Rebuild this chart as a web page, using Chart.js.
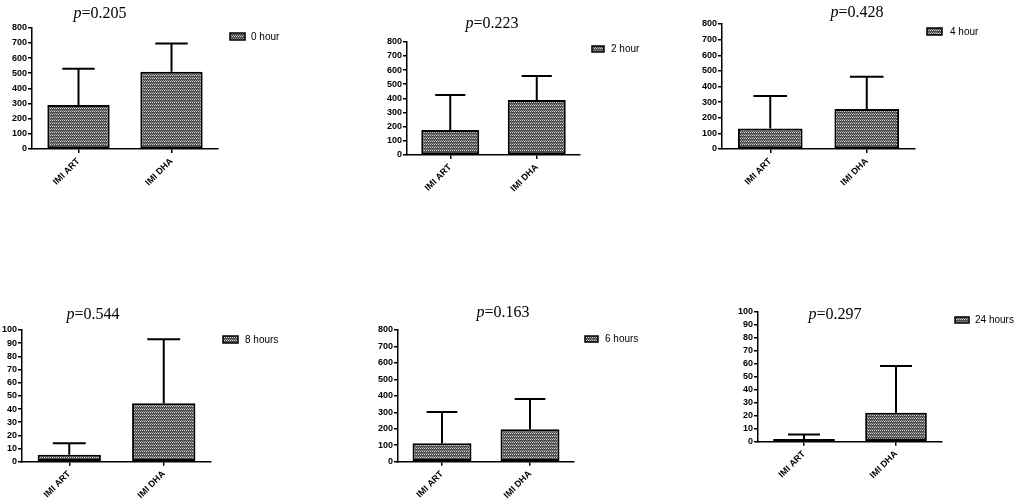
<!DOCTYPE html>
<html>
<head>
<meta charset="utf-8">
<script src="https://cdn.jsdelivr.net/npm/chart.js@4"></script>
<style>
  html, body { margin: 0; padding: 0; background: #fff; }
  body { width: 1021px; height: 504px; position: relative; overflow: hidden; }
  canvas { position: absolute; }
</style>
</head>
<body>
<script>
// ---------------- DATA ----------------
const categories = ['IMI ART', 'IMI DHA'];
const timeLabels = ['0 hour', '2 hour', '4 hour', '8 hours', '6 hours', '24 hours'];
const pValues = ['0.205', '0.223', '0.428', '0.544', '0.163', '0.297'];
const yMaxes = [800, 800, 800, 100, 800, 100];
const yTickSteps = [100, 100, 100, 10, 100, 10];

const mean0h = [290, 510];   const sd0h = [240, 185];
const mean2h = [176, 388];   const sd2h = [247, 170];
const mean4h = [132, 256];   const sd4h = [207, 207];
const mean8h = [5.3, 44.3];  const sd8h = [8.7, 48.6];
const mean6h = [112, 197];   const sd6h = [190, 184];
const mean24h = [2, 22.3];   const sd24h = [3.6, 35.9];

const seriesMeans = [mean0h, mean2h, mean4h, mean8h, mean6h, mean24h];
const seriesSD = [sd0h, sd2h, sd4h, sd8h, sd6h, sd24h];

// ---------------- LAYOUT (page pixels) ----------------
const cells = [
  {x: 0,   y: 0,   w: 340, h: 250},
  {x: 340, y: 0,   w: 350, h: 250},
  {x: 690, y: 0,   w: 331, h: 250},
  {x: 0,   y: 250, w: 340, h: 254},
  {x: 340, y: 250, w: 350, h: 254},
  {x: 690, y: 250, w: 331, h: 254}
];
const plots = [
  {left: 32,  top: 27.7, bottom: 149,  right: 218},
  {left: 407, top: 41.7, bottom: 155,  right: 580},
  {left: 722, top: 24,   bottom: 149,  right: 915},
  {left: 22,  top: 330,  bottom: 461.7, right: 211},
  {left: 398, top: 330,  bottom: 461.7, right: 574},
  {left: 758, top: 311.7, bottom: 441.7, right: 942}
];
const titles = [
  {x: 100, y: 14}, {x: 492, y: 24}, {x: 857, y: 13},
  {x: 93, y: 315}, {x: 503, y: 313}, {x: 835, y: 315}
];
const legends = [
  {x: 230, y: 33, w: 15, h: 7, tx: 251},
  {x: 592, y: 46, w: 12, h: 6, tx: 611},
  {x: 927, y: 28, w: 15, h: 7, tx: 950},
  {x: 223, y: 336, w: 15, h: 7, tx: 245},
  {x: 585, y: 336, w: 13, h: 6, tx: 605},
  {x: 955, y: 317, w: 14, h: 6, tx: 975}
];
const Wy = 30, Hx = 40;

function makePattern() {
  const c = document.createElement('canvas');
  c.width = 4; c.height = 3;
  const g = c.getContext('2d');
  g.fillStyle = '#4e4e4e'; g.fillRect(0, 0, 4, 3);
  g.fillStyle = '#d2d2d2'; g.fillRect(0, 0, 1, 1); g.fillRect(2, 0, 1, 1);
  g.fillStyle = '#929292'; g.fillRect(1, 2, 1, 1); g.fillRect(3, 2, 1, 1);
  return g.createPattern(c, 'repeat');
}

for (let i = 0; i < 6; i++) {
  const cell = cells[i], p = plots[i];
  const cv = document.createElement('canvas');
  cv.width = cell.w; cv.height = cell.h;
  cv.style.left = cell.x + 'px'; cv.style.top = cell.y + 'px';
  cv.style.width = cell.w + 'px'; cv.style.height = cell.h + 'px';
  document.body.appendChild(cv);
  const pattern = makePattern();

  const pad = {
    left: p.left - Wy - cell.x,
    top: p.top - cell.y,
    right: cell.x + cell.w - p.right,
    bottom: cell.y + cell.h - p.bottom - Hx
  };

  const extras = {
    id: 'extras' + i,
    afterDatasetsDraw(chart) {
      const ctx = chart.ctx;
      const meta = chart.getDatasetMeta(0);
      const ys = chart.scales.y;
      ctx.save();
      ctx.strokeStyle = '#000';
      ctx.lineWidth = 2;
      meta.data.forEach((bar, k) => {
        const top = ys.getPixelForValue(seriesMeans[i][k] + seriesSD[i][k]);
        const half = bar.width * 0.26;
        ctx.beginPath();
        ctx.moveTo(bar.x, bar.y);
        ctx.lineTo(bar.x, top);
        ctx.moveTo(bar.x - half, top);
        ctx.lineTo(bar.x + half, top);
        ctx.stroke();
      });
      const t = titles[i];
      const tx = t.x - cell.x, ty = t.y - cell.y;
      ctx.fillStyle = '#000';
      ctx.textBaseline = 'middle';
      ctx.font = 'italic 16px "Liberation Serif"';
      const w1 = ctx.measureText('p').width;
      ctx.font = '16px "Liberation Serif"';
      const rest = '=' + pValues[i];
      const w2 = ctx.measureText(rest).width;
      const sx = tx - (w1 + w2) / 2;
      ctx.font = 'italic 16px "Liberation Serif"';
      ctx.textAlign = 'left';
      ctx.fillText('p', sx, ty);
      ctx.font = '16px "Liberation Serif"';
      ctx.fillText(rest, sx + w1, ty);
      const L = legends[i];
      const lx = L.x - cell.x, ly = L.y - cell.y;
      ctx.fillStyle = pattern;
      ctx.fillRect(lx, ly, L.w, L.h);
      ctx.lineWidth = 1.5;
      ctx.strokeRect(lx, ly, L.w, L.h);
      ctx.fillStyle = '#000';
      ctx.font = '10px "Liberation Sans"';
      ctx.fillText(timeLabels[i], L.tx - cell.x, ly + L.h / 2 + 0.5);
      ctx.restore();
    }
  };

  const tickFont = {family: '"Liberation Sans", Arial, sans-serif', weight: 'bold', size: 9};

  new Chart(cv, {
    type: 'bar',
    data: {
      labels: categories,
      datasets: [{
        label: timeLabels[i],
        data: seriesMeans[i],
        backgroundColor: pattern,
        borderColor: '#000',
        borderWidth: 2,
        borderSkipped: false,
        barPercentage: 0.67,
        categoryPercentage: 1
      }]
    },
    options: {
      responsive: false,
      animation: false,
      devicePixelRatio: 1,
      layout: {padding: pad},
      plugins: {legend: {display: false}, tooltip: {enabled: false}, title: {display: false}},
      scales: {
        x: {
          offset: true,
          grid: {display: true, drawOnChartArea: false, drawTicks: true, tickLength: 4, offset: false, color: '#000', lineWidth: 1.5},
          border: {display: true, color: '#000', width: 1.5},
          ticks: {autoSkip: false, maxRotation: 45, minRotation: 45, font: tickFont, color: '#000', padding: 3},
          afterFit(s) { s.height = Hx; s.paddingLeft = 0; s.paddingRight = 0; }
        },
        y: {
          min: 0, max: yMaxes[i],
          grid: {display: true, drawOnChartArea: false, drawTicks: true, tickLength: 4, color: '#000', lineWidth: 1.5},
          border: {display: true, color: '#000', width: 1.5},
          ticks: {stepSize: yTickSteps[i], autoSkip: false, font: tickFont, color: '#000', padding: 1},
          afterFit(s) { s.width = Wy; s.paddingTop = 0; s.paddingBottom = 0; }
        }
      }
    },
    plugins: [extras]
  });
}
</script>
</body>
</html>
